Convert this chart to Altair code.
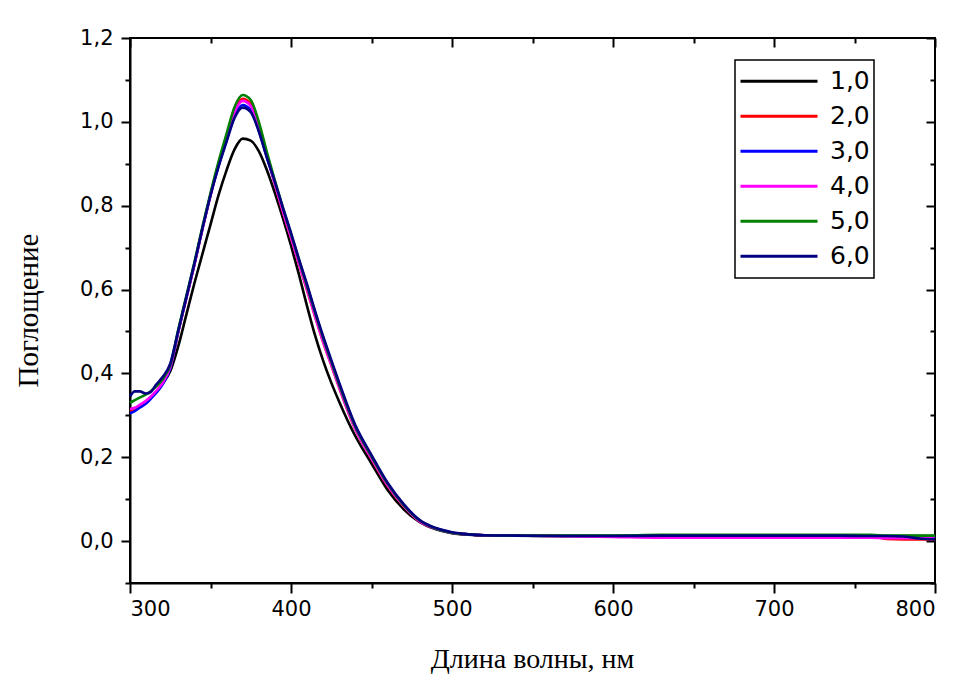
import altair as alt
import pandas as pd

# ---- data ----
wavelength = [300, 303, 306, 310, 313, 316, 320, 325, 330, 335, 340, 345, 350, 355,
              360, 365, 370, 375, 380, 385, 390, 395, 400, 405, 410, 415, 420, 425,
              430, 440, 450, 460, 470, 480, 490, 500, 510, 520, 540, 570, 600, 630,
              660, 700, 740, 760, 770, 780, 790, 800]

s1 = [0.305, 0.312, 0.320, 0.332, 0.342, 0.355, 0.375, 0.405, 0.465, 0.540, 0.615, 0.685, 0.755, 0.825,
      0.885, 0.935, 0.960, 0.955, 0.930, 0.885, 0.830, 0.770, 0.705, 0.635, 0.560, 0.490, 0.430, 0.378,
      0.332, 0.250, 0.185, 0.122, 0.076, 0.045, 0.028, 0.019, 0.015, 0.013, 0.013, 0.012, 0.012, 0.013,
      0.013, 0.013, 0.013, 0.013, 0.012, 0.012, 0.012, 0.012]
s2 = [0.310, 0.315, 0.322, 0.333, 0.343, 0.355, 0.375, 0.415, 0.500, 0.580, 0.660, 0.745, 0.825, 0.900,
      0.965, 1.028, 1.055, 1.043, 0.993, 0.922, 0.852, 0.785, 0.723, 0.660, 0.598, 0.535, 0.474, 0.420,
      0.365, 0.266, 0.196, 0.132, 0.083, 0.047, 0.030, 0.020, 0.016, 0.014, 0.013, 0.012, 0.012, 0.012,
      0.012, 0.012, 0.012, 0.012, 0.005, 0.004, 0.004, 0.004]
s3 = [0.305, 0.310, 0.318, 0.328, 0.340, 0.352, 0.372, 0.412, 0.500, 0.580, 0.660, 0.745, 0.825, 0.895,
      0.957, 1.015, 1.040, 1.028, 0.980, 0.915, 0.855, 0.790, 0.730, 0.665, 0.605, 0.540, 0.480, 0.425,
      0.370, 0.270, 0.200, 0.135, 0.085, 0.048, 0.030, 0.020, 0.016, 0.014, 0.013, 0.012, 0.012, 0.012,
      0.012, 0.012, 0.012, 0.011, 0.011, 0.010, 0.010, 0.010]
s4 = [0.315, 0.318, 0.325, 0.335, 0.345, 0.357, 0.376, 0.415, 0.500, 0.580, 0.660, 0.745, 0.825, 0.898,
      0.962, 1.024, 1.050, 1.038, 0.988, 0.920, 0.852, 0.786, 0.724, 0.661, 0.600, 0.536, 0.475, 0.421,
      0.366, 0.267, 0.197, 0.133, 0.084, 0.047, 0.030, 0.020, 0.016, 0.014, 0.013, 0.012, 0.010, 0.008,
      0.008, 0.008, 0.008, 0.008, 0.007, 0.007, 0.007, 0.006]
s5 = [0.330, 0.336, 0.342, 0.350, 0.358, 0.368, 0.385, 0.420, 0.505, 0.585, 0.665, 0.750, 0.830, 0.905,
      0.972, 1.036, 1.064, 1.052, 1.000, 0.928, 0.860, 0.795, 0.733, 0.670, 0.608, 0.545, 0.484, 0.428,
      0.373, 0.273, 0.202, 0.137, 0.086, 0.049, 0.030, 0.020, 0.016, 0.014, 0.013, 0.013, 0.013, 0.015,
      0.015, 0.015, 0.015, 0.015, 0.013, 0.013, 0.013, 0.013]
s6 = [0.345, 0.357, 0.357, 0.352, 0.356, 0.372, 0.390, 0.423, 0.502, 0.582, 0.662, 0.746, 0.825, 0.893,
      0.953, 1.010, 1.034, 1.023, 0.977, 0.915, 0.857, 0.795, 0.735, 0.672, 0.612, 0.548, 0.488, 0.432,
      0.377, 0.276, 0.205, 0.139, 0.088, 0.050, 0.031, 0.021, 0.016, 0.014, 0.013, 0.012, 0.012, 0.013,
      0.013, 0.013, 0.013, 0.012, 0.012, 0.011, 0.006, 0.004]

series_labels = ["1,0", "2,0", "3,0", "4,0", "5,0", "6,0"]
series_colors = ["#000000", "#ff0000", "#0000ff", "#ff00ff", "#008000", "#000080"]

x_major = [300, 400, 500, 600, 700, 800]
x_minor = [350, 450, 550, 650, 750]
y_major = [0.0, 0.2, 0.4, 0.6, 0.8, 1.0, 1.2]
y_minor = [-0.1, 0.1, 0.3, 0.5, 0.7, 0.9, 1.1]

rows = []
for lab, vals in zip(series_labels, [s1, s2, s3, s4, s5, s6]):
    for w, v in zip(wavelength, vals):
        rows.append({"wl": w, "absb": v, "series": lab})
df = pd.DataFrame(rows)

xs = alt.Scale(domain=[300, 800], nice=False, zero=False)
ys = alt.Scale(domain=[-0.1, 1.2], nice=False, zero=False)
comma = "replace(format(datum.value, '.1f'), '.', ',')"

lines = alt.Chart(df).mark_line(strokeWidth=2.6, interpolate="monotone").encode(
    x=alt.X("wl:Q", scale=xs, axis=alt.Axis(
        values=x_major, tickSize=10, labelPadding=5, grid=False, format="d",
        title="Длина волны, нм", titleX=402, titleY=84, titleBaseline="alphabetic",
        titleAlign="center", titleFontSize=28)),
    y=alt.Y("absb:Q", scale=ys, axis=alt.Axis(
        values=y_major, tickSize=9, labelPadding=8, grid=False, labelExpr=comma,
        title="Поглощение", titleX=-102, titleY=272, titleAngle=-90,
        titleBaseline="middle", titleAlign="center", titleFontSize=29)),
    color=alt.Color("series:N", scale=alt.Scale(domain=series_labels, range=series_colors),
                    legend=alt.Legend(
                        title=None, orient="none", legendX=605, legendY=22,
                        symbolType="stroke", symbolSize=5929, symbolStrokeWidth=2.8,
                        clipHeight=34.5, rowPadding=0, padding=4,
                        labelFont="DejaVu Sans", labelFontSize=25, labelColor="black",
                        labelOffset=11, strokeColor="black", fillColor="white")),
)


def ghost(xaxis, yaxis):
    return alt.Chart(df).mark_point(opacity=0).encode(
        x=alt.X("wl:Q", scale=xs, axis=xaxis),
        y=alt.Y("absb:Q", scale=ys, axis=yaxis),
    )


minor_out = ghost(
    alt.Axis(orient="bottom", values=x_minor, tickSize=5, labels=False, domain=False, title=None, grid=False),
    alt.Axis(orient="left", values=y_minor, tickSize=5, labels=False, domain=False, title=None, grid=False),
)
major_in = ghost(
    alt.Axis(orient="top", values=x_major, tickSize=9, offset=-9, labels=False, domain=False, title=None, grid=False),
    alt.Axis(orient="right", values=y_major, tickSize=9, offset=-9, labels=False, domain=False, title=None, grid=False),
)
minor_in = ghost(
    alt.Axis(orient="top", values=x_minor, tickSize=5, offset=-5, labels=False, domain=False, title=None, grid=False),
    alt.Axis(orient="right", values=y_minor, tickSize=5, offset=-5, labels=False, domain=False, title=None, grid=False),
)

chart = alt.layer(lines, minor_out, major_in, minor_in).resolve_scale(
    x="independent", y="independent"
).properties(
    width=805, height=545, autosize="none",
    padding={"left": 130, "top": 38, "right": 37, "bottom": 117},
    background="white",
).configure_view(
    stroke="black", strokeWidth=2
).configure_axis(
    labelFont="DejaVu Sans", labelFontSize=21, labelColor="black",
    tickColor="black", tickWidth=2, domainColor="black", domainWidth=2,
    titleFont="Liberation Serif", titleFontSize=27, titleFontWeight="normal", titleColor="black",
).configure_legend(
    strokeWidth=1.5
)

chart.save("out.html", embed_options={"renderer": "svg", "actions": False})
